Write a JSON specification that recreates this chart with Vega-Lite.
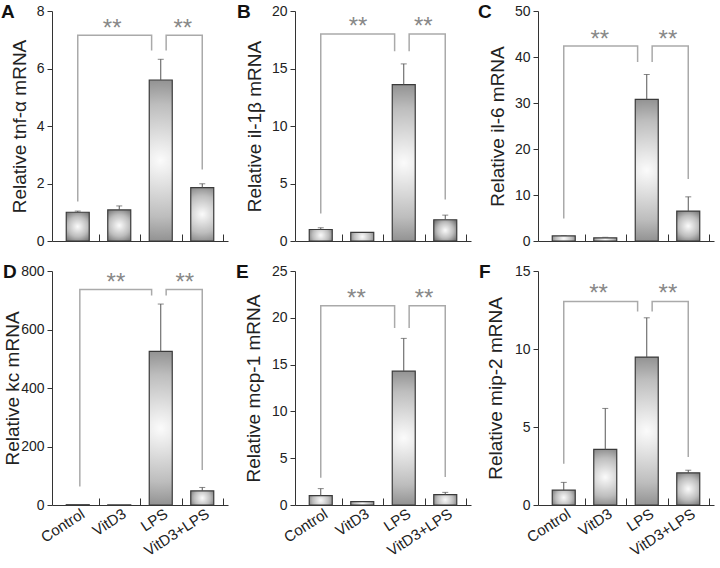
{
"$schema":"https://vega.github.io/schema/vega-lite/v6.json",
"padding":{"left":1,"top":3,"right":0,"bottom":0},
"config":{
 "font":"Liberation Sans",
 "view":{"stroke":null},
 "axis":{"grid":false,"domainColor":"#333","tickColor":"#333","labelColor":"#222","labelFont":"Liberation Sans","labelFontSize":14,"titleFont":"Liberation Sans","titleFontSize":19,"titleFontWeight":"normal","titleColor":"#222","domainWidth":1,"tickWidth":1},
 "axisY":{"tickSize":5,"labelPadding":3,"titleBaseline":"alphabetic"},
 "axisX":{"labelFlush":false,"labelBound":false},
 "title":{"fontSize":19,"fontWeight":"bold","anchor":"start","frame":"group","color":"#111","offset":0}
},
"datasets":{
 "bars":[
  {"panel":"A","i":1,"v":1.0,"hi":1.04},{"panel":"A","i":2,"v":1.08,"hi":1.22},{"panel":"A","i":3,"v":5.6,"hi":6.32},{"panel":"A","i":4,"v":1.86,"hi":1.99},
  {"panel":"B","i":1,"v":1.0,"hi":1.15},{"panel":"B","i":2,"v":0.75,"hi":null},{"panel":"B","i":3,"v":13.6,"hi":15.4},{"panel":"B","i":4,"v":1.85,"hi":2.25},
  {"panel":"C","i":1,"v":1.1,"hi":1.2},{"panel":"C","i":2,"v":0.7,"hi":0.8},{"panel":"C","i":3,"v":30.8,"hi":36.2},{"panel":"C","i":4,"v":6.5,"hi":9.6},
  {"panel":"D","i":1,"v":1,"hi":null},{"panel":"D","i":2,"v":0.5,"hi":null},{"panel":"D","i":3,"v":525,"hi":687},{"panel":"D","i":4,"v":48,"hi":60},
  {"panel":"E","i":1,"v":1.0,"hi":1.75},{"panel":"E","i":2,"v":0.35,"hi":null},{"panel":"E","i":3,"v":14.3,"hi":17.8},{"panel":"E","i":4,"v":1.1,"hi":1.35},
  {"panel":"F","i":1,"v":0.95,"hi":1.45},{"panel":"F","i":2,"v":3.56,"hi":6.19},{"panel":"F","i":3,"v":9.48,"hi":12.0},{"panel":"F","i":4,"v":2.06,"hi":2.23}
 ],
 "br":[
  {"panel":"A","seg":"L","k":1,"i":1,"v":1.37},{"panel":"A","seg":"L","k":2,"i":1,"v":7.16},{"panel":"A","seg":"L","k":3,"i":2.78,"v":7.16},{"panel":"A","seg":"L","k":4,"i":2.78,"v":6.63},
  {"panel":"A","seg":"R","k":1,"i":3.13,"v":6.63},{"panel":"A","seg":"R","k":2,"i":3.13,"v":7.16},{"panel":"A","seg":"R","k":3,"i":4,"v":7.16},{"panel":"A","seg":"R","k":4,"i":4,"v":2.49},
  {"panel":"B","seg":"L","k":1,"i":1,"v":2.4},{"panel":"B","seg":"L","k":2,"i":1,"v":18.0},{"panel":"B","seg":"L","k":3,"i":2.78,"v":18.0},{"panel":"B","seg":"L","k":4,"i":2.78,"v":16.5},
  {"panel":"B","seg":"R","k":1,"i":3.13,"v":16.5},{"panel":"B","seg":"R","k":2,"i":3.13,"v":18.0},{"panel":"B","seg":"R","k":3,"i":4,"v":18.0},{"panel":"B","seg":"R","k":4,"i":4,"v":3.6},
  {"panel":"C","seg":"L","k":1,"i":1,"v":4.9},{"panel":"C","seg":"L","k":2,"i":1,"v":42.4},{"panel":"C","seg":"L","k":3,"i":2.78,"v":42.4},{"panel":"C","seg":"L","k":4,"i":2.78,"v":38.9},
  {"panel":"C","seg":"R","k":1,"i":3.13,"v":38.9},{"panel":"C","seg":"R","k":2,"i":3.13,"v":42.4},{"panel":"C","seg":"R","k":3,"i":4,"v":42.4},{"panel":"C","seg":"R","k":4,"i":4,"v":13.5},
  {"panel":"D","seg":"L","k":1,"i":1.05,"v":63},{"panel":"D","seg":"L","k":2,"i":1.05,"v":737},{"panel":"D","seg":"L","k":3,"i":2.78,"v":737},{"panel":"D","seg":"L","k":4,"i":2.78,"v":716},
  {"panel":"D","seg":"R","k":1,"i":3.13,"v":716},{"panel":"D","seg":"R","k":2,"i":3.13,"v":737},{"panel":"D","seg":"R","k":3,"i":4,"v":737},{"panel":"D","seg":"R","k":4,"i":4,"v":120},
  {"panel":"E","seg":"L","k":1,"i":1,"v":2.9},{"panel":"E","seg":"L","k":2,"i":1,"v":21.3},{"panel":"E","seg":"L","k":3,"i":2.78,"v":21.3},{"panel":"E","seg":"L","k":4,"i":2.78,"v":18.9},
  {"panel":"E","seg":"R","k":1,"i":3.13,"v":18.9},{"panel":"E","seg":"R","k":2,"i":3.13,"v":21.3},{"panel":"E","seg":"R","k":3,"i":4,"v":21.3},{"panel":"E","seg":"R","k":4,"i":4,"v":3.0},
  {"panel":"F","seg":"L","k":1,"i":1,"v":2.65},{"panel":"F","seg":"L","k":2,"i":1,"v":13.05},{"panel":"F","seg":"L","k":3,"i":2.78,"v":13.05},{"panel":"F","seg":"L","k":4,"i":2.78,"v":12.4},
  {"panel":"F","seg":"R","k":1,"i":3.13,"v":12.4},{"panel":"F","seg":"R","k":2,"i":3.13,"v":13.05},{"panel":"F","seg":"R","k":3,"i":4,"v":13.05},{"panel":"F","seg":"R","k":4,"i":4,"v":3.07}
 ],
 "st":[
  {"panel":"A","i":1.83,"v":7.6},{"panel":"A","i":3.53,"v":7.6},
  {"panel":"B","i":1.9,"v":19.1},{"panel":"B","i":3.47,"v":19.1},
  {"panel":"C","i":1.87,"v":45.1},{"panel":"C","i":3.51,"v":45.1},
  {"panel":"D","i":1.92,"v":779},{"panel":"D","i":3.58,"v":779},
  {"panel":"E","i":1.86,"v":22.7},{"panel":"E","i":3.49,"v":22.7},
  {"panel":"F","i":1.84,"v":13.9},{"panel":"F","i":3.51,"v":13.9}
 ]
},
"columns":3,
"bounds":"flush",
"spacing":{"row":30,"column":67},
"concat":[
 {"width":176,"height":230,"title":{"text":"A","dx":-51,"dy":22},
  "encoding":{
   "x":{"field":"i","type":"quantitative","scale":{"domain":[0.5,4.5],"nice":false,"zero":false},"axis":{"values":[1.5,2.5,3.5,4.5],"labels":false,"tickSize":-7,"title":null}},
   "y":{"field":"v","type":"quantitative","scale":{"domain":[0,8],"nice":false},"axis":{"values":[0,2,4,6,8],"title":"Relative tnf-α mRNA","titleX":-27,"titleY":115}}},
  "layer":[
   {"data":{"name":"bars"},"transform":[{"filter":"datum.panel==='A'"}],"mark":{"type":"bar","orient":"vertical","width":23,"stroke":"#3a3a3a","strokeWidth":1.2,"color":{"gradient":"radial","x1":0.5,"y1":0.5,"x2":0.5,"y2":0.5,"r1":0,"r2":0.7,"stops":[{"offset":0,"color":"#fbfbfb"},{"offset":0.5,"color":"#bdbdbd"},{"offset":1,"color":"#5a5a5a"}]}}},
   {"data":{"name":"bars"},"transform":[{"filter":"datum.panel==='A' && datum.hi != null"}],"mark":{"type":"rule","color":"#555"},"encoding":{"y2":{"field":"hi"}}},
   {"data":{"name":"bars"},"transform":[{"filter":"datum.panel==='A' && datum.hi != null"}],"mark":{"type":"tick","orient":"horizontal","size":6,"thickness":1,"color":"#555"},"encoding":{"y":{"field":"hi","type":"quantitative","title":"Relative tnf-α mRNA"}}},
   {"data":{"name":"br"},"transform":[{"filter":"datum.panel==='A'"}],"mark":{"type":"line","color":"#aaaaaa","strokeWidth":1.5},"encoding":{"detail":{"field":"seg"},"order":{"field":"k"}}},
   {"data":{"name":"st"},"transform":[{"filter":"datum.panel==='A'"}],"mark":{"type":"text","text":"**","fontSize":24,"color":"#888","baseline":"alphabetic","dy":13}}
  ]},
 {"width":176,"height":230,"title":{"text":"B","dx":-58,"dy":22},
  "encoding":{
   "x":{"field":"i","type":"quantitative","scale":{"domain":[0.5,4.5],"nice":false,"zero":false},"axis":{"values":[1.5,2.5,3.5,4.5],"labels":false,"tickSize":-7,"title":null}},
   "y":{"field":"v","type":"quantitative","scale":{"domain":[0,20],"nice":false},"axis":{"values":[0,5,10,15,20],"title":"Relative il-1β mRNA","titleX":-35,"titleY":115}}},
  "layer":[
   {"data":{"name":"bars"},"transform":[{"filter":"datum.panel==='B'"}],"mark":{"type":"bar","orient":"vertical","width":23,"stroke":"#3a3a3a","strokeWidth":1.2,"color":{"gradient":"radial","x1":0.5,"y1":0.5,"x2":0.5,"y2":0.5,"r1":0,"r2":0.7,"stops":[{"offset":0,"color":"#fbfbfb"},{"offset":0.5,"color":"#bdbdbd"},{"offset":1,"color":"#5a5a5a"}]}}},
   {"data":{"name":"bars"},"transform":[{"filter":"datum.panel==='B' && datum.hi != null"}],"mark":{"type":"rule","color":"#555"},"encoding":{"y2":{"field":"hi"}}},
   {"data":{"name":"bars"},"transform":[{"filter":"datum.panel==='B' && datum.hi != null"}],"mark":{"type":"tick","orient":"horizontal","size":6,"thickness":1,"color":"#555"},"encoding":{"y":{"field":"hi","type":"quantitative","title":"Relative il-1β mRNA"}}},
   {"data":{"name":"br"},"transform":[{"filter":"datum.panel==='B'"}],"mark":{"type":"line","color":"#aaaaaa","strokeWidth":1.5},"encoding":{"detail":{"field":"seg"},"order":{"field":"k"}}},
   {"data":{"name":"st"},"transform":[{"filter":"datum.panel==='B'"}],"mark":{"type":"text","text":"**","fontSize":24,"color":"#888","baseline":"alphabetic","dy":13}}
  ]},
 {"width":176,"height":230,"title":{"text":"C","dx":-60,"dy":22},
  "encoding":{
   "x":{"field":"i","type":"quantitative","scale":{"domain":[0.5,4.5],"nice":false,"zero":false},"axis":{"values":[1.5,2.5,3.5,4.5],"labels":false,"tickSize":-7,"title":null}},
   "y":{"field":"v","type":"quantitative","scale":{"domain":[0,50],"nice":false},"axis":{"values":[0,10,20,30,40,50],"title":"Relative il-6 mRNA","titleX":-35,"titleY":115}}},
  "layer":[
   {"data":{"name":"bars"},"transform":[{"filter":"datum.panel==='C'"}],"mark":{"type":"bar","orient":"vertical","width":23,"stroke":"#3a3a3a","strokeWidth":1.2,"color":{"gradient":"radial","x1":0.5,"y1":0.5,"x2":0.5,"y2":0.5,"r1":0,"r2":0.7,"stops":[{"offset":0,"color":"#fbfbfb"},{"offset":0.5,"color":"#bdbdbd"},{"offset":1,"color":"#5a5a5a"}]}}},
   {"data":{"name":"bars"},"transform":[{"filter":"datum.panel==='C' && datum.hi != null"}],"mark":{"type":"rule","color":"#555"},"encoding":{"y2":{"field":"hi"}}},
   {"data":{"name":"bars"},"transform":[{"filter":"datum.panel==='C' && datum.hi != null"}],"mark":{"type":"tick","orient":"horizontal","size":6,"thickness":1,"color":"#555"},"encoding":{"y":{"field":"hi","type":"quantitative","title":"Relative il-6 mRNA"}}},
   {"data":{"name":"br"},"transform":[{"filter":"datum.panel==='C'"}],"mark":{"type":"line","color":"#aaaaaa","strokeWidth":1.5},"encoding":{"detail":{"field":"seg"},"order":{"field":"k"}}},
   {"data":{"name":"st"},"transform":[{"filter":"datum.panel==='C'"}],"mark":{"type":"text","text":"**","fontSize":24,"color":"#888","baseline":"alphabetic","dy":13}}
  ]},
 {"width":176,"height":234,"title":{"text":"D","dx":-49,"dy":22},
  "encoding":{
   "x":{"field":"i","type":"quantitative","scale":{"domain":[0.5,4.5],"nice":false,"zero":false},"axis":{"values":[1,1.5,2,2.5,3,3.5,4,4.5],"labelExpr":"datum.value==1?'Control':datum.value==2?'VitD3':datum.value==3?'LPS':datum.value==4?'VitD3+LPS':''","tickOpacity":{"condition":{"test":"datum.value % 1 === 0","value":0},"value":1},"labelAngle":-33,"labelAlign":"right","labelBaseline":"top","labelFontSize":15,"labelPadding":8,"labelOffset":1,"labelOverlap":false,"tickSize":-7,"title":null}},
   "y":{"field":"v","type":"quantitative","scale":{"domain":[0,800],"nice":false},"axis":{"values":[0,200,400,600,800],"title":"Relative kc mRNA","titleX":-34,"titleY":117}}},
  "layer":[
   {"data":{"name":"bars"},"transform":[{"filter":"datum.panel==='D'"}],"mark":{"type":"bar","orient":"vertical","width":23,"stroke":"#3a3a3a","strokeWidth":1.2,"color":{"gradient":"radial","x1":0.5,"y1":0.5,"x2":0.5,"y2":0.5,"r1":0,"r2":0.7,"stops":[{"offset":0,"color":"#fbfbfb"},{"offset":0.5,"color":"#bdbdbd"},{"offset":1,"color":"#5a5a5a"}]}}},
   {"data":{"name":"bars"},"transform":[{"filter":"datum.panel==='D' && datum.hi != null"}],"mark":{"type":"rule","color":"#555"},"encoding":{"y2":{"field":"hi"}}},
   {"data":{"name":"bars"},"transform":[{"filter":"datum.panel==='D' && datum.hi != null"}],"mark":{"type":"tick","orient":"horizontal","size":6,"thickness":1,"color":"#555"},"encoding":{"y":{"field":"hi","type":"quantitative","title":"Relative kc mRNA"}}},
   {"data":{"name":"br"},"transform":[{"filter":"datum.panel==='D'"}],"mark":{"type":"line","color":"#aaaaaa","strokeWidth":1.5},"encoding":{"detail":{"field":"seg"},"order":{"field":"k"}}},
   {"data":{"name":"st"},"transform":[{"filter":"datum.panel==='D'"}],"mark":{"type":"text","text":"**","fontSize":24,"color":"#888","baseline":"alphabetic","dy":13}}
  ]},
 {"width":176,"height":234,"title":{"text":"E","dx":-59,"dy":22},
  "encoding":{
   "x":{"field":"i","type":"quantitative","scale":{"domain":[0.5,4.5],"nice":false,"zero":false},"axis":{"values":[1,1.5,2,2.5,3,3.5,4,4.5],"labelExpr":"datum.value==1?'Control':datum.value==2?'VitD3':datum.value==3?'LPS':datum.value==4?'VitD3+LPS':''","tickOpacity":{"condition":{"test":"datum.value % 1 === 0","value":0},"value":1},"labelAngle":-33,"labelAlign":"right","labelBaseline":"top","labelFontSize":15,"labelPadding":8,"labelOffset":1,"labelOverlap":false,"tickSize":-7,"title":null}},
   "y":{"field":"v","type":"quantitative","scale":{"domain":[0,25],"nice":false},"axis":{"values":[0,5,10,15,20,25],"title":"Relative mcp-1 mRNA","titleX":-36,"titleY":117}}},
  "layer":[
   {"data":{"name":"bars"},"transform":[{"filter":"datum.panel==='E'"}],"mark":{"type":"bar","orient":"vertical","width":23,"stroke":"#3a3a3a","strokeWidth":1.2,"color":{"gradient":"radial","x1":0.5,"y1":0.5,"x2":0.5,"y2":0.5,"r1":0,"r2":0.7,"stops":[{"offset":0,"color":"#fbfbfb"},{"offset":0.5,"color":"#bdbdbd"},{"offset":1,"color":"#5a5a5a"}]}}},
   {"data":{"name":"bars"},"transform":[{"filter":"datum.panel==='E' && datum.hi != null"}],"mark":{"type":"rule","color":"#555"},"encoding":{"y2":{"field":"hi"}}},
   {"data":{"name":"bars"},"transform":[{"filter":"datum.panel==='E' && datum.hi != null"}],"mark":{"type":"tick","orient":"horizontal","size":6,"thickness":1,"color":"#555"},"encoding":{"y":{"field":"hi","type":"quantitative","title":"Relative mcp-1 mRNA"}}},
   {"data":{"name":"br"},"transform":[{"filter":"datum.panel==='E'"}],"mark":{"type":"line","color":"#aaaaaa","strokeWidth":1.5},"encoding":{"detail":{"field":"seg"},"order":{"field":"k"}}},
   {"data":{"name":"st"},"transform":[{"filter":"datum.panel==='E'"}],"mark":{"type":"text","text":"**","fontSize":24,"color":"#888","baseline":"alphabetic","dy":13}}
  ]},
 {"width":176,"height":234,"title":{"text":"F","dx":-59,"dy":22},
  "encoding":{
   "x":{"field":"i","type":"quantitative","scale":{"domain":[0.5,4.5],"nice":false,"zero":false},"axis":{"values":[1,1.5,2,2.5,3,3.5,4,4.5],"labelExpr":"datum.value==1?'Control':datum.value==2?'VitD3':datum.value==3?'LPS':datum.value==4?'VitD3+LPS':''","tickOpacity":{"condition":{"test":"datum.value % 1 === 0","value":0},"value":1},"labelAngle":-33,"labelAlign":"right","labelBaseline":"top","labelFontSize":15,"labelPadding":8,"labelOffset":1,"labelOverlap":false,"tickSize":-7,"title":null}},
   "y":{"field":"v","type":"quantitative","scale":{"domain":[0,15],"nice":false},"axis":{"values":[0,5,10,15],"title":"Relative mip-2 mRNA","titleX":-37,"titleY":117}}},
  "layer":[
   {"data":{"name":"bars"},"transform":[{"filter":"datum.panel==='F'"}],"mark":{"type":"bar","orient":"vertical","width":23,"stroke":"#3a3a3a","strokeWidth":1.2,"color":{"gradient":"radial","x1":0.5,"y1":0.5,"x2":0.5,"y2":0.5,"r1":0,"r2":0.7,"stops":[{"offset":0,"color":"#fbfbfb"},{"offset":0.5,"color":"#bdbdbd"},{"offset":1,"color":"#5a5a5a"}]}}},
   {"data":{"name":"bars"},"transform":[{"filter":"datum.panel==='F' && datum.hi != null"}],"mark":{"type":"rule","color":"#555"},"encoding":{"y2":{"field":"hi"}}},
   {"data":{"name":"bars"},"transform":[{"filter":"datum.panel==='F' && datum.hi != null"}],"mark":{"type":"tick","orient":"horizontal","size":6,"thickness":1,"color":"#555"},"encoding":{"y":{"field":"hi","type":"quantitative","title":"Relative mip-2 mRNA"}}},
   {"data":{"name":"br"},"transform":[{"filter":"datum.panel==='F'"}],"mark":{"type":"line","color":"#aaaaaa","strokeWidth":1.5},"encoding":{"detail":{"field":"seg"},"order":{"field":"k"}}},
   {"data":{"name":"st"},"transform":[{"filter":"datum.panel==='F'"}],"mark":{"type":"text","text":"**","fontSize":24,"color":"#888","baseline":"alphabetic","dy":13}}
  ]}
]
}
